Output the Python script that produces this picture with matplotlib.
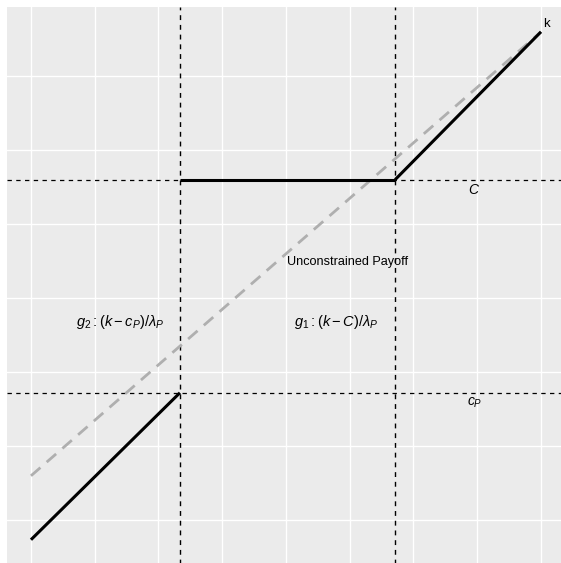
import numpy as np
import matplotlib
matplotlib.use("Agg")
import matplotlib.pyplot as plt

plt.rcParams['font.family'] = ['Liberation Sans', 'DejaVu Sans']
plt.rcParams['mathtext.fontset'] = 'custom'
plt.rcParams['mathtext.rm'] = 'Liberation Sans'
plt.rcParams['mathtext.it'] = 'Liberation Sans:italic'
plt.rcParams['mathtext.sf'] = 'Liberation Sans'

# data (k on 0..100)
k_line = [0, 100]
unconstrained = [0, 100]
g2_k = [0, 29.2]
g2_y = [-14.4, 18.7]
flat_k = [29.2, 71.4]
flat_y = [66.7, 66.7]
g1_k = [71.4, 100]
g1_y = [66.7, 100]
C_level = 66.7
cP_level = 18.7
k_low = 29.2
k_high = 71.4
x_grid = [0, 12.5, 25, 37.5, 50, 62.5, 75, 87.5, 100]
y_grid = [-10, 6.67, 23.33, 40, 56.67, 73.33, 90]

fig = plt.figure(figsize=(5.61, 5.63), dpi=100)
ax = fig.add_axes([7 / 561, -1.6 / 563, 559.5 / 561, 558.1 / 563])
ax.set_facecolor('#EBEBEB')
ax.set_xlim(-4.7, 105)
ax.set_ylim(-20, 105.7)

for gx in x_grid:
    ax.axvline(gx, color='white', lw=1.0, zorder=0)
for gy in y_grid:
    ax.axhline(gy, color='white', lw=1.0, zorder=0)

# reference lines
dash = (0, (3.5, 3.5))
ax.axhline(C_level, color='black', lw=0.9, ls=dash, zorder=2)
ax.axhline(cP_level, color='black', lw=0.9, ls=dash, zorder=2)
ax.axvline(k_low, color='black', lw=1.0, ls=dash, zorder=2)
ax.axvline(k_high, color='black', lw=1.0, ls=dash, zorder=2)

# unconstrained payoff
ax.plot(k_line, unconstrained, color='#AFAFAF', lw=2.0, ls=(0, (4.5, 3)), zorder=3)

# constrained payoff
ax.plot(g2_k, g2_y, color='black', lw=2.2, solid_capstyle='butt', zorder=4)
ax.plot(flat_k, flat_y, color='black', lw=2.2, solid_capstyle='butt', zorder=4)
ax.plot(g1_k, g1_y, color='black', lw=2.2, solid_capstyle='butt', zorder=4)

ax.text(100.4, 100.4, 'k', fontsize=9.5, ha='left', va='bottom')
ax.text(50.2, 48.2, 'Unconstrained Payoff', fontsize=9.1, ha='left', va='center')
ax.text(86.8, 64.3, r'$C$', fontsize=10, ha='center', va='center')
ax.text(87.0, 16.5, r'$c_P$', fontsize=10, ha='center', va='center')
ax.text(17.4, 34.7, r'$g_2:(k-c_P)/\lambda_P$', fontsize=10.5, ha='center', va='center')
ax.text(59.9, 34.7, r'$g_1:(k-C)/\lambda_P$', fontsize=10.5, ha='center', va='center')

ax.set_xticks([])
ax.set_yticks([])
for s in ax.spines.values():
    s.set_visible(False)

fig.savefig('out.png', dpi=100, facecolor='white')
